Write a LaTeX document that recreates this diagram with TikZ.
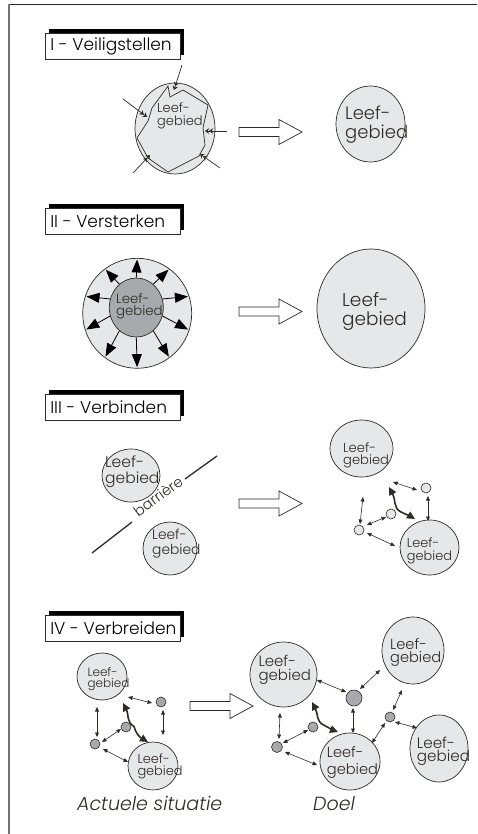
\documentclass[tikz,border=0pt]{standalone}
\usepackage{fontspec}
\IfFontExistsTF{Poppins Light}{\setmainfont{Poppins Light}}{\setmainfont{Poppins}}
\usetikzlibrary{arrows.meta,calc,shapes.geometric,shadows}
\definecolor{lg}{HTML}{E6E7E8}
\definecolor{dg}{HTML}{A7A9AC}
\definecolor{ink}{HTML}{2E2A25}
\newcommand\fs[2]{\fontsize{#1}{#2}\selectfont}
\newcommand\ttl[1]{\makebox[125pt][l]{#1}}
\tikzset{
  blob/.style={ellipse, draw=ink, line width=0.7pt, fill=lg, inner sep=0pt},
  dot/.style={circle, draw=ink, line width=0.6pt, fill=dg, inner sep=0pt, minimum size=10pt},
  ldot/.style={dot, fill=lg},
  lbl/.style={align=left, inner sep=0pt, anchor=west, text=ink},
  link/.style={{Triangle[length=4.5pt,width=3.8pt]}-{Triangle[length=4.5pt,width=3.8pt]}, line width=0.6pt, draw=ink},
  wave/.style={{Triangle[length=8pt,width=7.5pt]}-{Triangle[length=8pt,width=7.5pt]}, line width=1.6pt, draw=ink},
  titlebox/.style={draw=ink, fill=white, line width=0.7pt, minimum height=26pt, minimum width=135pt,
    inner xsep=5pt, anchor=north west, font=\fs{17}{19},
    general shadow={fill=black, shadow xshift=4pt, shadow yshift=4pt}},
  hollow/.style={draw=ink, fill=white, line width=0.7pt},
  ray/.style={-{Triangle[length=13pt,width=10pt]}, line width=0.8pt, draw=black},
  poke/.style={-{Stealth[length=4pt,width=5.5pt]Stealth[length=4pt,width=5.5pt]}, line width=0.7pt, draw=ink},
  harrow/.pic={\draw[hollow] (0,-4.5) -- (40,-4.5) -- (40,-12.5) -- (63,0) -- (40,12.5) -- (40,4.5) -- (0,4.5) -- cycle;}
}
\begin{document}
\begin{tikzpicture}[x=1pt,y=-1pt]
\useasboundingbox (0,0) rectangle (477,834);
% frame
\draw[line width=1.5pt, color=black!85] (8,4.5) -- (477,4.5);
\draw[line width=2pt, color=black!55] (9,4) -- (9,834);

% ---------- I ----------
\node[titlebox] (t1) at (45,33) {\ttl{I - Veiligstellen}};
\node[blob, minimum width=80pt, minimum height=91pt] (E1) at (175,128.5) {};
\draw[ink, line width=0.7pt] (168,86) -- (170,97) -- (183,90) -- (208,105) -- (203,128) -- (205,145)
  -- (199,156) -- (168,172) -- (148,158) -- (137,138) -- (148,121) -- (152,108) -- cycle;
\node[lbl, font=\fs{13}{12.7}] (E1t) at (157,115.5) {Leef-\\gebied};
\coordinate (q1) at (182,65);
\coordinate (q2) at (123,99);
\coordinate (q3) at (227,131);
\coordinate (q4) at (133,173);
\coordinate (q5) at (220,168);
\draw[poke] (q1) -- ($(E1)+(-1,-38.5)$);
\draw[poke] (q2) -- ($(E1)+(-28,-11.5)$);
\draw[poke] (q3) -- ($(E1)+(30,2.5)$);
\draw[poke] (q4) -- ($(E1)+(-25,26.5)$);
\draw[poke] (q5) -- ($(E1)+(25,25.5)$);
\pic at (239,132) {harrow};
\node[blob, minimum width=69pt, minimum height=76pt] (E2) at (370.5,124) {};
\node[lbl, font=\fs{18}{19.5}] (E2t) at (345,124.5) {Leef-\\gebied};

% ---------- II ----------
\node[titlebox] (t2) at (45,208) {\ttl{II - Versterken}};
\node[blob, minimum width=109pt, minimum height=110pt] (O2) at (137.2,313.3) {};
\node[ellipse, draw=ink, line width=0.7pt, fill=dg, inner sep=0pt, minimum width=54pt, minimum height=59pt] (I2) at (136.3,307.5) {};
\node[lbl, font=\fs{13.3}{11.7}] (I2t) at (116,306.3) {Leef-\\gebied};
\foreach \a in {90,54,18,-18,-54,-90,-126,-162,162,126}
  \draw[ray, shorten >=1.5pt] (I2.\a) -- (O2.\a);
\pic at (239,311.5) {harrow};
\node[blob, minimum width=108pt, minimum height=119pt] (O3) at (371,308.5) {};
\node[lbl, font=\fs{18.5}{19}] (O3t) at (342,311.8) {Leef-\\gebied};

% ---------- III ----------
\node[titlebox] (t3) at (45,394) {\ttl{III - Verbinden}};
\node[blob, minimum width=58pt, minimum height=53pt] (CA) at (131,475.5) {};
\node[lbl, font=\fs{15.5}{16}] (CAt) at (105,472.2) {Leef-\\gebied};
\node[blob, minimum width=54pt, minimum height=53pt] (CB) at (170,548.5) {};
\node[lbl, font=\fs{13.8}{15}] (CBt) at (152,543.8) {Leef-\\gebied};
\draw[ink, line width=1.3pt] (92,553) -- (132,522);
\draw[ink, line width=1.3pt] (185,479) -- (217,456);
\node[text=ink, inner sep=0pt, rotate=36, font=\fs{14.5}{16}] (bar) at (158,496) {barrière};
\pic at (239,503.5) {harrow};
\node[blob, minimum width=63pt, minimum height=57pt] (C1) at (361.5,448.5) {};
\node[lbl, font=\fs{13.1}{11.5}] (C1t) at (343,455.2) {Leef-\\gebied};
\node[blob, minimum width=59pt, minimum height=55pt] (C2) at (429.5,547.5) {};
\node[lbl, font=\fs{12.9}{12.4}] (C2t) at (406.7,551) {Leef-\\gebied};
\node[ldot] (s1) at (426,488) {};
\node[ldot] (s2) at (391,514) {};
\node[ldot] (s3) at (359,530) {};
\draw[link] ($(C1)+(31.5,33.5)$) -- ($(s1)+(-9,2)$);
\draw[link] ($(s1)+(2,8)$) -- ($(C2)+(-1.5,-26.5)$);
\draw[link] ($(C1)+(1.5,48.5)$) -- ($(s3)+(1,-6)$);
\draw[link] ($(s3)+(8,-5)$) -- ($(s2)+(-5,3)$);
\draw[link] ($(s3)+(8,3)$) -- ($(C2)+(-34.5,-1.5)$);
\draw[wave] ($(C1)+(27.5,38.5)$) .. controls ($(C1)+(34.5,51.5)$) and ($(C1)+(31.5,59.5)$) .. ($(C1)+(39.5,63.5)$)
  .. controls ($(C2)+(-24.5,-33.5)$) and ($(C2)+(-19.5,-31.5)$) .. ($(C2)+(-14.5,-28.5)$);

% ---------- IV ----------
\node[titlebox] (t4) at (45,615) {\ttl{IV - Verbreiden}};
\node[blob, minimum width=50pt, minimum height=47pt] (L1) at (102,676.5) {};
\node[lbl, font=\fs{12}{10.7}] (L1t) at (87.3,679.1) {Leef-\\gebied};
\node[blob, minimum width=50pt, minimum height=48pt] (L2) at (153,766) {};
\node[lbl, font=\fs{12.9}{12}] (L2t) at (137.3,766.5) {Leef-\\gebied};
\node[dot] (v1) at (161,702) {};
\node[dot] (v2) at (126,727) {};
\node[dot] (v3) at (95,744) {};
\draw[link] ($(L1)+(26,20.5)$) -- ($(v1)+(-9,1)$);
\draw[link] ($(v1)+(2,8)$) -- ($(L2)+(10,-31)$);
\draw[link] ($(L1)+(-5,30.5)$) -- ($(v3)+(2,-7)$);
\draw[link] ($(v3)+(7,-2)$) -- ($(v2)+(-5,2)$);
\draw[link] ($(v3)+(8,5)$) -- ($(L2)+(-25,-4)$);
\draw[wave] ($(L1)+(21,26.5)$) .. controls ($(L1)+(27,38)$) and ($(L1)+(24,45)$) .. ($(L1)+(32,50)$)
  .. controls ($(L2)+(-16,-29)$) and ($(L2)+(-10,-27)$) .. ($(L2)+(-5,-24)$);
\node[inner sep=0pt, anchor=base west, text=ink, font=\fs{19}{22}\itshape] (act) at (77,810) {Actuele situatie};
\pic at (190,706) {harrow};
\node[blob, minimum width=67pt, minimum height=65pt] (R1) at (283.5,674.5) {};
\node[lbl, font=\fs{15}{14.7}] (R1t) at (258.3,669.7) {Leef-\\gebied};
\node[blob, minimum width=62pt, minimum height=67pt] (R2) at (413,650.5) {};
\node[lbl, font=\fs{14.6}{12.7}] (R2t) at (390,652.3) {Leef-\\gebied};
\node[blob, minimum width=60pt, minimum height=57pt] (R3) at (350,761.5) {};
\node[lbl, font=\fs{14.6}{16.7}] (R3t) at (326.7,762.6) {Leef-\\gebied};
\node[blob, minimum width=58pt, minimum height=67pt] (R4) at (439,748.5) {};
\node[lbl, font=\fs{15.2}{13.4}] (R4t) at (416.7,751) {Leef-\\gebied};
\node[dot, minimum size=16pt] (u1) at (354,698) {};
\node[dot] (u2) at (390,717) {};
\node[dot] (u3) at (313,727) {};
\node[dot, minimum size=11pt] (u4) at (277,747) {};
\draw[link] ($(R1)+(33.5,5.5)$) -- ($(u1)+(-8,-6)$);
\draw[link] ($(R2)+(-33,19.5)$) -- ($(u1)+(6,-9)$);
\draw[link] ($(u1)+(-1,10)$) -- ($(R3)+(3,-28.5)$);
\draw[link] ($(R2)+(-11,39.5)$) -- ($(u2)+(3,-7)$);
\draw[link] ($(u2)+(5,5)$) -- ($(R4)+(-22,-20.5)$);
\draw[link] ($(u2)+(-5,6)$) -- ($(R3)+(22,-18.5)$);
\draw[link] ($(R1)+(-3.5,38.5)$) -- ($(u4)+(2,-8)$);
\draw[link] ($(u4)+(6,-4)$) -- ($(u3)+(-5,3)$);
\draw[link] ($(u4)+(8,5)$) -- ($(R3)+(-33,3.5)$);
\draw[wave] ($(R1)+(28.5,27.5)$) .. controls ($(R1)+(35,40)$) and ($(R1)+(32,47)$) .. ($(R1)+(41,51)$)
  .. controls ($(R3)+(-20,-33)$) and ($(R3)+(-16,-31)$) .. ($(R3)+(-12,-29.5)$);
\node[inner sep=0pt, anchor=base west, text=ink, font=\fs{19}{22}\itshape] (doel) at (313,810) {Doel};
\end{tikzpicture}
\end{document}
